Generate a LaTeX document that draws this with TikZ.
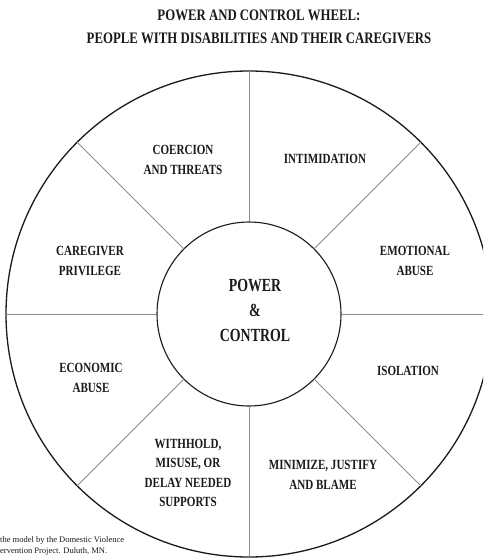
\documentclass[tikz,border=0pt]{standalone}
\usepackage{fontspec}
\setmainfont{Liberation Serif}
\newfontfamily\titlefont[FakeStretch=0.8]{Liberation Serif}
\newfontfamily\labfont[FakeStretch=0.79]{Liberation Serif}
\newfontfamily\centfont[FakeStretch=0.75]{Liberation Serif}
\definecolor{ink}{HTML}{1A1A1A}
\definecolor{spoke}{HTML}{8C8C8C}
\tikzset{
  wheeltitle/.style={align=center, text=ink, inner sep=0pt, font=\titlefont\bfseries\fontsize{16}{23}\selectfont},
  seglabel/.style={align=center, text=ink, inner sep=0pt, font=\labfont\bfseries\fontsize{14}{19.5}\selectfont},
  hublabel/.style={align=center, text=ink, inner sep=0pt, font=\centfont\bfseries\fontsize{18.5}{25}\selectfont},
  ring/.style={circle, draw=ink, inner sep=0pt, outer sep=0pt},
  spokeline/.style={draw=spoke, line width=0.9pt},
  footnote/.style={align=left, text=ink, inner sep=0pt, anchor=north west, font=\fontsize{8.5}{11}\selectfont}
}
\begin{document}
\begin{tikzpicture}[x=1pt, y=-1pt]
\useasboundingbox (0,0) rectangle (483,558);
\fill[white] (0,0) rectangle (483,558);
\begin{scope}
\clip (0,0) rectangle (483,558);
\node[ring, line width=1.3pt, minimum size=486pt] (outer) at (249,314) {};
\node[ring, line width=1.1pt, minimum size=184pt, fill=white] (inner) at (249,314) {};
\foreach \a in {0,45,...,315} {
  \draw[spokeline] (inner.\a) -- (outer.\a);
}
\end{scope}
\node[wheeltitle] (title) at (259,27) {POWER AND CONTROL WHEEL:\\PEOPLE WITH DISABILITIES AND THEIR CAREGIVERS};
\node[seglabel] (coercion) at (183,160) {COERCION\\AND THREATS};
\node[seglabel] (intim) at (325,159) {INTIMIDATION};
\node[seglabel] (caregiver) at (90,261) {CAREGIVER\\PRIVILEGE};
\node[seglabel] (emotional) at (415,261) {EMOTIONAL\\ABUSE};
\node[seglabel] (economic) at (91,378) {ECONOMIC\\ABUSE};
\node[seglabel] (isolation) at (408,371) {ISOLATION};
\node[seglabel] (withhold) at (188,473) {WITHHOLD,\\MISUSE, OR\\DELAY NEEDED\\SUPPORTS};
\node[seglabel] (minimize) at (323,475) {MINIMIZE, JUSTIFY\\AND BLAME};
\node[hublabel] (hub) at (255,310) {POWER\\\&\\CONTROL};
\node[footnote] (note) at (0,536) {the model by the Domestic Violence\\ervention Project. Duluth, MN.};
\end{tikzpicture}
\end{document}
